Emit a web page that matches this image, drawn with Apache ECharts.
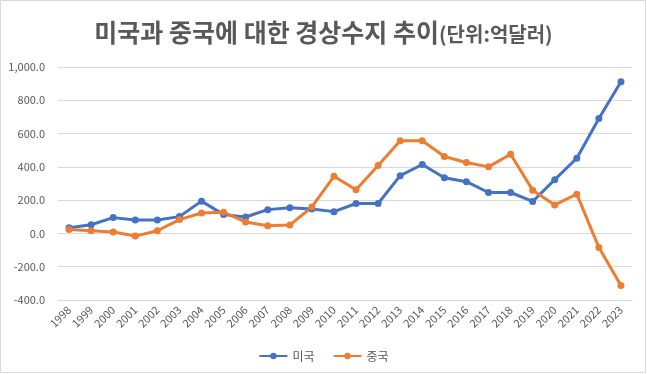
<!DOCTYPE html>
<html><head><meta charset="utf-8">
<script src="https://cdn.jsdelivr.net/npm/echarts@6/dist/echarts.min.js"></script>
<style>html,body{margin:0;padding:0;background:#fff}#c{width:647px;height:374px}</style>
</head><body><div id="c"></div>
<script>
const years = ['1998','1999','2000','2001','2002','2003','2004','2005','2006','2007','2008','2009','2010','2011','2012','2013','2014','2015','2016','2017','2018','2019','2020','2021','2022','2023'];
const usValues = [34,52,95,81,81,101,194,113,99,143,155,147,131,180,180,347,414,335,311,246,246,192,323,452,690,912];
const cnValues = [24,16,8,-16,16,83,123,127,69,46,50,159,343,262,408,557,557,462,426,400,476,260,171,236,-85,-313];
const yTicks = {min:-400, max:1000, step:200};
const seriesNames = ['미국','중국'];

const chart = echarts.init(document.getElementById('c'), null, {renderer:'canvas'});
const FONT = '"Noto Sans CJK KR","Noto Sans",sans-serif';
chart.setOption({
  animation:false,
  backgroundColor:'#fff',
  graphic:[{type:'rect',shape:{x:0.5,y:0.5,width:645,height:372},style:{fill:'none',stroke:'#d9d9d9',lineWidth:1}}],
  title:{
    text:'{a|미국과 중국에 대한 경상수지 추이}{b|(단위:억달러)}',
    left:'center', top:15,
    textStyle:{rich:{
      a:{fontFamily:FONT,fontSize:25,fontWeight:'bold',color:'#595959',verticalAlign:'bottom'},
      b:{fontFamily:FONT,fontSize:20,color:'#595959',verticalAlign:'bottom',padding:[0,0,1,0]}
    }}
  },
  legend:{
    data:seriesNames, top:345, left:'center', itemWidth:28, itemHeight:8, itemGap:18,
    textStyle:{fontFamily:FONT,fontSize:12,color:'#595959'}
  },
  grid:{left:58,right:15,top:67,bottom:74,containLabel:false},
  xAxis:{
    type:'category', data:years, boundaryGap:true,
    axisLine:{onZero:false,lineStyle:{color:'#d9d9d9'}},
    axisTick:{show:false},
    axisLabel:{rotate:45,interval:0,fontFamily:FONT,fontSize:11,color:'#595959',margin:8}
  },
  yAxis:{
    type:'value', min:yTicks.min, max:yTicks.max, interval:yTicks.step,
    axisLine:{show:false}, axisTick:{show:false},
    splitLine:{lineStyle:{color:'#d9d9d9'}},
    axisLabel:{fontFamily:FONT,fontSize:11,color:'#595959',margin:13,
      formatter:v=>(v<0?'-':'')+Math.abs(v).toLocaleString('en-US',{minimumFractionDigits:1,maximumFractionDigits:1})}
  },
  series:[
    {name:seriesNames[0],type:'line',data:usValues,symbol:'circle',symbolSize:7,
     lineStyle:{width:3,color:'#4472C4'},itemStyle:{color:'#4472C4'}},
    {name:seriesNames[1],type:'line',data:cnValues,symbol:'circle',symbolSize:7,
     lineStyle:{width:3,color:'#ED7D31'},itemStyle:{color:'#ED7D31'}}
  ]
});
</script></body></html>
